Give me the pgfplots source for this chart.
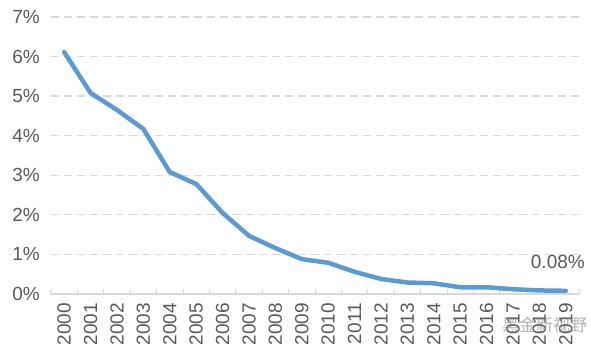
\documentclass[border=0pt]{standalone}
\usepackage{pgfplots}
\pgfplotsset{compat=1.18}
\usepackage{fontspec}
\setmainfont{Liberation Sans}
\newfontfamily\cjk{Noto Sans CJK SC}
\definecolor{lineblue}{HTML}{5B9BD5}
\definecolor{gridgray}{HTML}{D9D9D9}
\definecolor{labgray}{HTML}{595959}
\begin{document}
\begin{tikzpicture}
\begin{axis}[
  name=ax,
  scale only axis,
  width=528bp, height=277bp,
  xmin=-0.5, xmax=19.5,
  ymin=0, ymax=7,
  axis x line*=bottom,
  axis y line*=left,
  y axis line style={draw=none},
  x axis line style={gridgray, line width=1.2bp, -},
  xtick={0,...,19},
  xticklabels={2000,2001,2002,2003,2004,2005,2006,2007,2008,2009,2010,2011,2012,2013,2014,2015,2016,2017,2018,2019},
  major tick length=0pt,
  minor xtick={-0.5,0.5,...,19.5},
  minor tick length=5bp,
  tick align=inside,
  minor tick style={gridgray, line width=1bp},
  xticklabel style={rotate=90, anchor=east, font=\fontsize{19bp}{19bp}\selectfont, text=labgray, xshift=-9bp, inner sep=0pt},
  ytick={0,1,...,7},
  yticklabel={\pgfmathprintnumber{\tick}\%},
  yticklabel style={font=\fontsize{19bp}{19bp}\selectfont, text=labgray, inner sep=0pt, xshift=-11bp},
  /pgf/number format/assume math mode=true,
  ymajorgrids,
  grid style={gridgray, line width=1.3bp, dash pattern=on 8bp off 5bp},
  clip=false,
]
\addplot[lineblue, line width=4.5bp, line join=round, line cap=round] coordinates {
(0,6.11) (1,5.08) (2,4.65) (3,4.17) (4,3.08) (5,2.78) (6,2.05) (7,1.47)
(8,1.16) (9,0.88) (10,0.79) (11,0.56) (12,0.38) (13,0.29) (14,0.27)
(15,0.17) (16,0.17) (17,0.12) (18,0.09) (19,0.08)
};
\node[anchor=east, font=\fontsize{19bp}{19bp}\selectfont, text=labgray, inner sep=0pt] at (axis cs:19.5,0.08) [xshift=6bp, yshift=29bp] {0.08\%};
\node[font=\cjk\fontsize{17bp}{17bp}\selectfont, text=gray, opacity=0.6, inner sep=0pt] at (axis cs:18.2,0) [yshift=-31bp] {黑金新视野};
\end{axis}
\pgfresetboundingbox
\path ([xshift=-51bp,yshift=-61bp]ax.south west) rectangle ([xshift=12bp,yshift=17bp]ax.north east);
\end{tikzpicture}
\end{document}
